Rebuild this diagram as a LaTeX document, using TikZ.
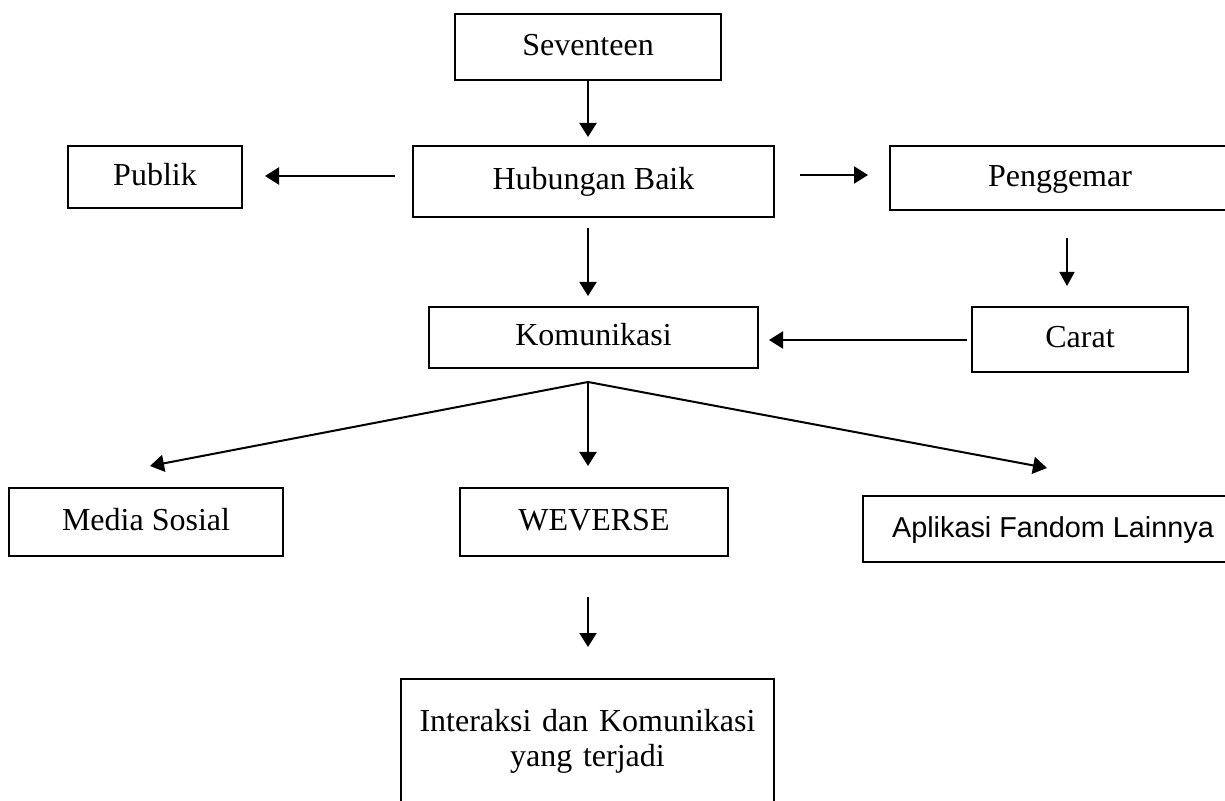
\documentclass[tikz,border=0pt]{standalone}
\usepackage{fontspec}
\setmainfont{Liberation Serif}
\newfontfamily\arialfont{Liberation Sans}
\usetikzlibrary{arrows.meta}
\begin{document}
\begin{tikzpicture}[x=0.5pt,y=-0.5pt,
  box/.style={draw, line width=0.85pt, inner sep=0pt, text height=12pt, text depth=3.5pt,
    font=\fontsize{16}{17.5}\selectfont},
  arr/.style={line width=1pt, -{Triangle[length=7pt,width=8.5pt]}},
  thinarr/.style={line width=0.75pt, -{Triangle[length=7pt,width=7.5pt]}}]
\fill[white] (0,0) rectangle (1225,801);
\useasboundingbox (0,0) rectangle (1225,801);

\node[box, minimum width=133pt, minimum height=33pt] (sev) at (588,47) {Seventeen};
\node[box, minimum width=180.5pt, minimum height=35.5pt] (hub) at (593.5,181.5) {Hubungan Baik};
\node[box, minimum width=87pt, minimum height=31pt] (pub) at (155,177) {Publik};
\node[box, minimum width=170pt, minimum height=32pt] (pen) at (1060,178) {Penggemar};
\node[box, minimum width=108pt, minimum height=32.5pt] (car) at (1080,339.5) {Carat};
\node[box, minimum width=164.5pt, minimum height=30.5pt] (kom) at (593.5,337.5) {Komunikasi};
\node[box, minimum width=137pt, minimum height=34pt] (med) at (146,522) {Media Sosial};
\node[box, minimum width=134pt, minimum height=34pt] (wev) at (594,522) {WEVERSE};
\node[box, font=\arialfont\fontsize{14.4}{16}\selectfont, minimum width=190pt, minimum height=33pt] (apl) at (1053,529) {Aplikasi Fandom Lainnya};
\node[box, anchor=north, text width=180pt, inner xsep=3.25pt, inner ysep=15.5pt, align=center,
  text height=11pt, text depth=60pt] (int) at (587.5,678) {Interaksi dan Komunikasi\\yang terjadi};

% free ends of connectors
\coordinate (t1) at (588,137);
\coordinate (s2) at (395,176);
\coordinate (t2) at (265,176);
\coordinate (s3) at (800,175);
\coordinate (t3) at (868,175);
\coordinate (s4) at (588,228);
\coordinate (t4) at (588,296);
\coordinate (s5) at (1067,238);
\coordinate (t5) at (1067,286);
\coordinate (s6) at (967,340);
\coordinate (t6) at (769,340);
\coordinate (apex) at (588,382);
\coordinate (t7) at (150,466);
\coordinate (t8) at (588,466);
\coordinate (t9) at (1047,468);
\coordinate (s10) at (588,597);
\coordinate (t10) at (588,647);

\draw[arr] (sev.south) -- (t1);
\draw[arr] (s2) -- (t2);
\draw[arr] (s3) -- (t3);
\draw[arr] (s4) -- (t4);
\draw[thinarr] (s5) -- (t5);
\draw[arr] (s6) -- (t6);
\draw[arr] (apex) -- (t7);
\draw[arr] (apex) -- (t8);
\draw[arr] (apex) -- (t9);
\draw[arr] (s10) -- (t10);
\end{tikzpicture}
\end{document}
